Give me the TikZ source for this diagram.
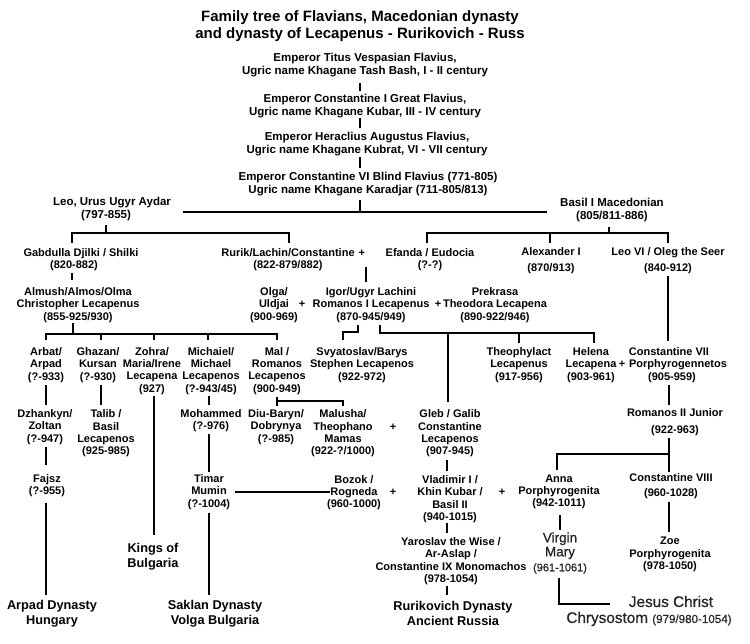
\documentclass[tikz,border=0pt]{standalone}
\usepackage{fontspec}
\setmainfont{Liberation Sans}
\newfontfamily\semifont[FakeBold=0.7]{Liberation Sans}
\usetikzlibrary{calc}
\begin{document}
\begin{tikzpicture}[x=1pt,y=-1pt,
  ln/.style={line width=1.7pt},
  pers/.style={font=\fontsize{11}{12.3}\selectfont\bfseries, align=center, inner sep=0pt},
  topp/.style={font=\fontsize{11.5}{13}\selectfont\bfseries, align=center, inner sep=0pt},
  ttl/.style={font=\fontsize{15}{17}\selectfont\bfseries, align=center, inner sep=0pt},
  dyn/.style={font=\fontsize{12.75}{15}\selectfont\bfseries, align=center, inner sep=0pt},
  lite/.style={font=\semifont\fontsize{13.5}{14}\selectfont, align=center, inner sep=0pt, text=black!85},
  plus/.style={font=\fontsize{11}{12.3}\selectfont\bfseries, inner sep=0pt}]
\fill[white] (0,0) rectangle (750,643);
\useasboundingbox (0,0) rectangle (750,643);

% top
\node[ttl] (title) at (360,26.5) {Family tree of Flavians, Macedonian dynasty\\and dynasty of Lecapenus - Rurikovich - Russ};
\node[topp] (titus) at (365,65.5) {Emperor Titus Vespasian Flavius,\\Ugric name Khagane Tash Bash, I - II century};
\node[topp] (consti) at (365,106.5) {Emperor Constantine I Great Flavius,\\Ugric name Khagane Kubar, III - IV century};
\node[topp] (herac) at (367,144.5) {Emperor Heraclius Augustus Flavius,\\Ugric name Khagane Kubrat, VI - VII century};
\node[topp] (constvi) at (368,184.5) {Emperor Constantine VI Blind Flavius (771-805)\\Ugric name Khagane Karadjar (711-805/813)};
\node[topp] (leo) at (112,209.5) {Leo, Urus Ugyr Aydar\\(797-855)\hspace*{12pt}};
\node[topp] (basil) at (612,210.5) {Basil I Macedonian\\(805/811-886)};

% level 2
\node[pers] (gab) at (81,259.5) {Gabdulla Djilki / Shilki\\(820-882)\hspace*{14pt}};
\node[pers] (rurik) at (288,259.5) {Rurik/Lachin/Constantine\rlap{\hspace{4pt}+}\\(822-879/882)};
\node[pers] (efanda) at (430,259.5) {Efanda / Eudocia\\(?-?)};
\node[pers] (alex) at (551,261) {Alexander I\\[3.5pt](870/913)};
\node[pers] (leovi) at (668,261) {Leo VI / Oleg the Seer\\[3.5pt](840-912)};

% level 3
\node[pers] (almush) at (78,305) {Almush/Almos/Olma\\Christopher Lecapenus\\(855-925/930)};
\node[pers] (olga) at (274,305) {Olga/\\Uldjai\\(900-969)};
\node[plus] (p1) at (302,304) {+};
\node[pers] (igor) at (371,305) {Igor/Ugyr Lachini\\Romanos I Lecapenus\\(870-945/949)};
\node[plus] (p2) at (438,304) {+};
\node[pers] (prek) at (495,305) {Prekrasa\\Theodora Lecapena\\(890-922/946)};

% level 4
\node[pers] (arbat) at (46,365) {Arbat/\\Arpad\\(?-933)};
\node[pers] (ghazan) at (98,365) {Ghazan/\\Kursan\\(?-930)};
\node[pers] (zohra) at (152,371) {Zohra/\\Maria/Irene\\Lecapena\\(927)};
\node[pers] (mich) at (211,371) {Michaiel/\\Michael\\Lecapenos\\(?-943/45)};
\node[pers] (mal) at (277,371) {Mal /\\Romanos\\Lecapenos\\(900-949)};
\node[pers] (svy) at (362,365) {Svyatoslav/Barys\\Stephen Lecapenos\\(922-972)};
\node[pers] (theo) at (519,365) {Theophylact\\Lecapenus\\(917-956)};
\node[pers] (helena) at (591,365) {Helena\\Lecapena\\(903-961)};
\node[plus] (p3) at (622,364) {+};
\node[pers] (c7) at (678,365) {Constantine VII\hspace*{18pt}\\Porphyrogennetos\\(905-959)\hspace*{12pt}};

% level 5
\node[pers] (dzh) at (45,427) {Dzhankyn/\\Zoltan\\(?-947)};
\node[pers] (talib) at (106,433.5) {Talib /\\Basil\\Lecapenos\\(925-985)};
\node[pers] (moh) at (211,420.5) {Mohammed\\(?-976)};
\node[pers] (diu) at (276,427) {Diu-Baryn/\\Dobrynya\\(?-985)};
\node[pers] (malusha) at (343,433.5) {Malusha/\\Theophano\\Mamas\\(922-?/1000)};
\node[plus] (p4) at (393,427) {+};
\node[pers] (gleb) at (450,433.5) {Gleb / Galib\\Constantine\\Lecapenos\\(907-945)};
\node[pers] (rom2) at (675,422.5) {Romanos II Junior\\[4.5pt](922-963)};

% level 6
\node[pers] (fajsz) at (47,485.5) {Fajsz\\(?-955)};
\node[pers] (timar) at (209,492) {Timar\\Mumin\\(?-1004)};
\node[pers] (bozok) at (354,492.5) {Bozok /\\Rogneda\\(960-1000)};
\node[plus] (p5) at (393,492) {+};
\node[pers] (vlad) at (450,499) {Vladimir I /\\Khin Kubar /\\Basil II\\(940-1015)};
\node[plus] (p6) at (502,492) {+};
\node[pers] (anna) at (559,492) {Anna\\Porphyrogenita\\(942-1011)};
\node[pers] (c8) at (671,486.5) {Constantine VIII\\[2.7pt](960-1028)};

% level 7
\node[dyn] (kings) at (153,556.5) {Kings of\\Bulgaria};
\node[pers] (yar) at (451,561) {Yaroslav the Wise /\\Ar-Aslap /\\Constantine IX Monomachos\\(978-1054)};
\node[lite] (virgin) at (560,553) {Virgin\\Mary\\[1pt]{\fontsize{11}{12}\selectfont(961-1061)}};
\node[pers] (zoe) at (670,554.5) {Zoe\\Porphyrogenita\\(978-1050)};

% level 8
\node[dyn] (arpad) at (52,613.5) {Arpad Dynasty\\Hungary};
\node[dyn] (saklan) at (215,613.5) {Saklan Dynasty\\Volga Bulgaria};
\node[dyn] (rurikd) at (453,613.5) {Rurikovich Dynasty\\Ancient Russia};
\node[font=\semifont\fontsize{15.3}{16}\selectfont, align=center, inner sep=0pt, text=black!85] (jesus) at (649,611) {\hspace*{44pt}Jesus Christ\\Chrysostom {\fontsize{11.6}{12}\selectfont(979/980-1054)}};

% connectors top
\draw[ln] ($(titus)+(-5,17.5)$) -- ($(consti)+(-5,-15.5)$);
\draw[ln] ($(consti)+(-5,11.5)$) -- ($(herac)+(-7,-16.5)$);
\draw[ln] ($(herac)+(-7,12.5)$) -- ($(constvi)+(-8,-16.5)$);
\draw[ln] ($(leo)+(71,2.5)$) -- ($(basil)+(-65,1.5)$);
\draw[ln] ($(constvi)+(-8,15.5)$) -- ($(constvi)+(-8,27.5)$);

% Leo children
\draw[ln] ($(leo)+(-6,15.5)$) -- ++(0,8);
\draw[ln] ($(gab)+(-9,-16.5)$) -- ++(0,-10) -| ($(rurik)+(1,-16.5)$);
% Basil children
\draw[ln] ($(basil)+(-3,16.5)$) -- ++(0,6);
\draw[ln] ($(efanda)+(-3,-16.5)$) -- ++(0,-10) -| ($(leovi)+(0,-18)$);
\draw[ln] ($(alex)+(-1,-28)$) -- ($(alex)+(-1,-18)$);

\draw[ln] ($(rurik)+(78,7.5)$) -- ($(igor)+(-5,-23)$);
\draw[ln] ($(gab)+(-9,13.5)$) -- ($(almush)+(-6,-25)$);

% Almush children
\draw[ln] ($(almush)+(-5,18)$) -- ++(0,11);
\draw[ln] ($(arbat)+(0,-25)$) -- ++(0,-6) -| ($(mal)+(0,-31)$);
\draw[ln] ($(ghazan)+(3,-31)$) -- ($(ghazan)+(3,-25)$);
\draw[ln] ($(zohra)+(2,-37)$) -- ($(zohra)+(2,-31)$);
\draw[ln] ($(mich)+(-3,-37)$) -- ($(mich)+(-3,-31)$);

% Igor children
\draw[ln] ($(igor)+(-13,20)$) -- ++(0,7) -| ($(svy)+(-19,-25)$);
\draw[ln] ($(igor)+(9,20)$) -- ++(0,8) -| ($(helena)+(3,-22)$);
\draw[ln] ($(theo)+(0,-32)$) -- ($(theo)+(0,-22)$);
\draw[ln] ($(gleb)+(-2,-100.5)$) -- ($(gleb)+(-2,-31.5)$);

\draw[ln] ($(leovi)+(0,15)$) -- ($(c7)+(-10,-24)$);

% level 4 to 5
\draw[ln] ($(arbat)+(0,20)$) -- ($(dzh)+(1,-22)$);
\draw[ln] ($(ghazan)+(3,20)$) -- ($(talib)+(-5,-28.5)$);
\draw[ln] ($(zohra)+(2,25)$) -- ($(kings)+(1,-21.5)$);
\draw[ln] ($(mich)+(-2,25)$) -- ($(moh)+(-2,-15.5)$);
\draw[ln] ($(mal)+(0,26)$) -- ($(diu)+(1,-21)$);
\draw[ln] ($(mal)+(0,30)$) -| ($(malusha)+(0,-27.5)$);
\draw[ln] ($(c7)+(-9,20)$) -- ($(rom2)+(-6,-17.5)$);

% level 5 to 6
\draw[ln] ($(dzh)+(1,20)$) -- ($(fajsz)+(-1,-20.5)$);
\draw[ln] ($(moh)+(-2,13.5)$) -- ($(timar)+(0,-20)$);
\draw[ln] ($(gleb)+(-3,26.5)$) -- ($(vlad)+(-3,-28)$);
\draw[ln] ($(rom2)+(-6,15.5)$) -- ($(c8)+(-2,-14.5)$);
\draw[ln] ($(rom2)+(-6,31.5)$) -| ($(anna)+(-2,-22)$);
\draw[ln] ($(timar)+(26,0)$) -- ($(bozok)+(-24,-0.5)$);

% level 6 onwards
\draw[ln] ($(fajsz)+(-1,17.5)$) -- ($(arpad)+(-6,-18.5)$);
\draw[ln] ($(timar)+(0,21)$) -- ($(saklan)+(-6,-18.5)$);
\draw[ln] ($(vlad)+(-3,24)$) -- ($(yar)+(-4,-28)$);
\draw[ln] ($(anna)+(1,23)$) -- ($(virgin)+(0,-23)$);
\draw[ln] ($(c8)+(-2,15.5)$) -- ($(zoe)+(-1,-22.5)$);
\draw[ln] ($(yar)+(-4,25)$) -- ($(rurikd)+(-6,-18.5)$);
\draw[ln] ($(virgin)+(-1,25)$) |- ($(jesus)+(-39,-7)$);
\end{tikzpicture}
\end{document}
